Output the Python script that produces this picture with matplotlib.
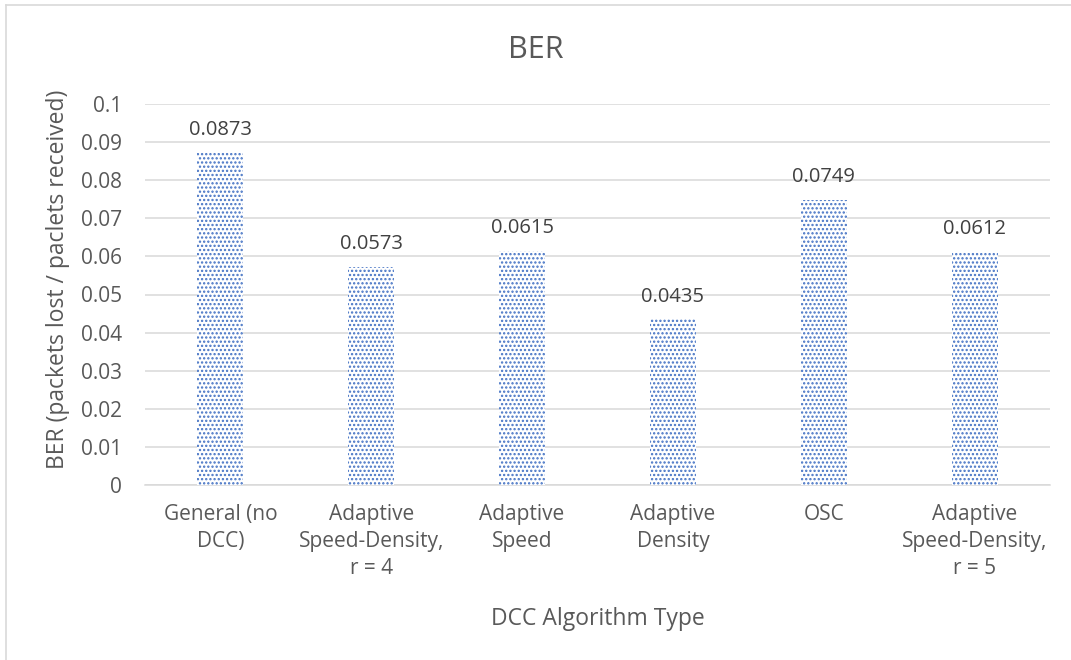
import matplotlib
matplotlib.use('Agg')
import matplotlib.pyplot as plt
from matplotlib.lines import Line2D

plt.rcParams['font.family'] = ['Open Sans', 'DejaVu Sans']
plt.rcParams['hatch.linewidth'] = 1.1
plt.rcParams['hatch.color'] = '#4472C4'

categories = ['General (no\nDCC)', 'Adaptive\nSpeed-Density,\nr = 4', 'Adaptive\nSpeed',
              'Adaptive\nDensity', 'OSC', 'Adaptive\nSpeed-Density,\nr = 5']
ber = [0.0873, 0.0573, 0.0615, 0.0435, 0.0749, 0.0612]
yticks = [0, 0.01, 0.02, 0.03, 0.04, 0.05, 0.06, 0.07, 0.08, 0.09, 0.1]
ytick_labels = ['0', '0.01', '0.02', '0.03', '0.04', '0.05', '0.06', '0.07', '0.08', '0.09', '0.1']

grey = '#595959'

fig = plt.figure(figsize=(10.71, 6.6), dpi=100)
ax = fig.add_axes([145/1071, 1-485/660, 905/1071, 381/660])

x = range(len(categories))
ax.bar(x, ber, width=0.305, facecolor='white', edgecolor='#4472C4',
       hatch='....', linewidth=0, zorder=3)

for xi, v in zip(x, ber):
    ax.annotate(f'{v:.4f}', (xi, v), xytext=(0, 9), textcoords='offset points',
                ha='center', va='bottom', fontsize=14.5, color='#404040')

ax.set_xlim(-0.5, len(categories) - 0.5)
ax.set_ylim(0, 0.1)
ax.set_yticks(yticks)
ax.set_yticklabels(ytick_labels, fontsize=15, color=grey)
ax.set_xticks(list(x))
ax.set_xticklabels(categories, fontsize=15, color=grey, linespacing=1.35, va='top')
ax.tick_params(axis='both', length=0)
ax.tick_params(axis='x', pad=14)
ax.tick_params(axis='y', pad=16.5)
ax.grid(axis='y', color='#D9D9D9', linewidth=1.1, zorder=0)
for s in ['top', 'right', 'left']:
    ax.spines[s].set_visible(False)
ax.spines['bottom'].set_color('#D9D9D9')
ax.spines['bottom'].set_linewidth(1.1)

ax.set_ylabel('BER (packets lost / paclets received)', fontsize=16.5, color=grey)
ax.yaxis.set_label_coords(-(145-70)/905, (485-279)/381)
ax.set_xlabel('DCC Algorithm Type', fontsize=16.5, color=grey)
ax.xaxis.set_label_coords(0.5, -(607-485)/381)

fig.text(0.5, 1-50/660, 'BER', ha='center', va='center', fontsize=22, color=grey)

# chart border (left and top edges visible)
fig.add_artist(Line2D([6/1071, 6/1071], [0, 1-5/660], transform=fig.transFigure,
                      color='#D9D9D9', linewidth=1.2))
fig.add_artist(Line2D([6/1071, 1], [1-5/660, 1-5/660], transform=fig.transFigure,
                      color='#D9D9D9', linewidth=1.2))

fig.savefig('out.png', dpi=100)
